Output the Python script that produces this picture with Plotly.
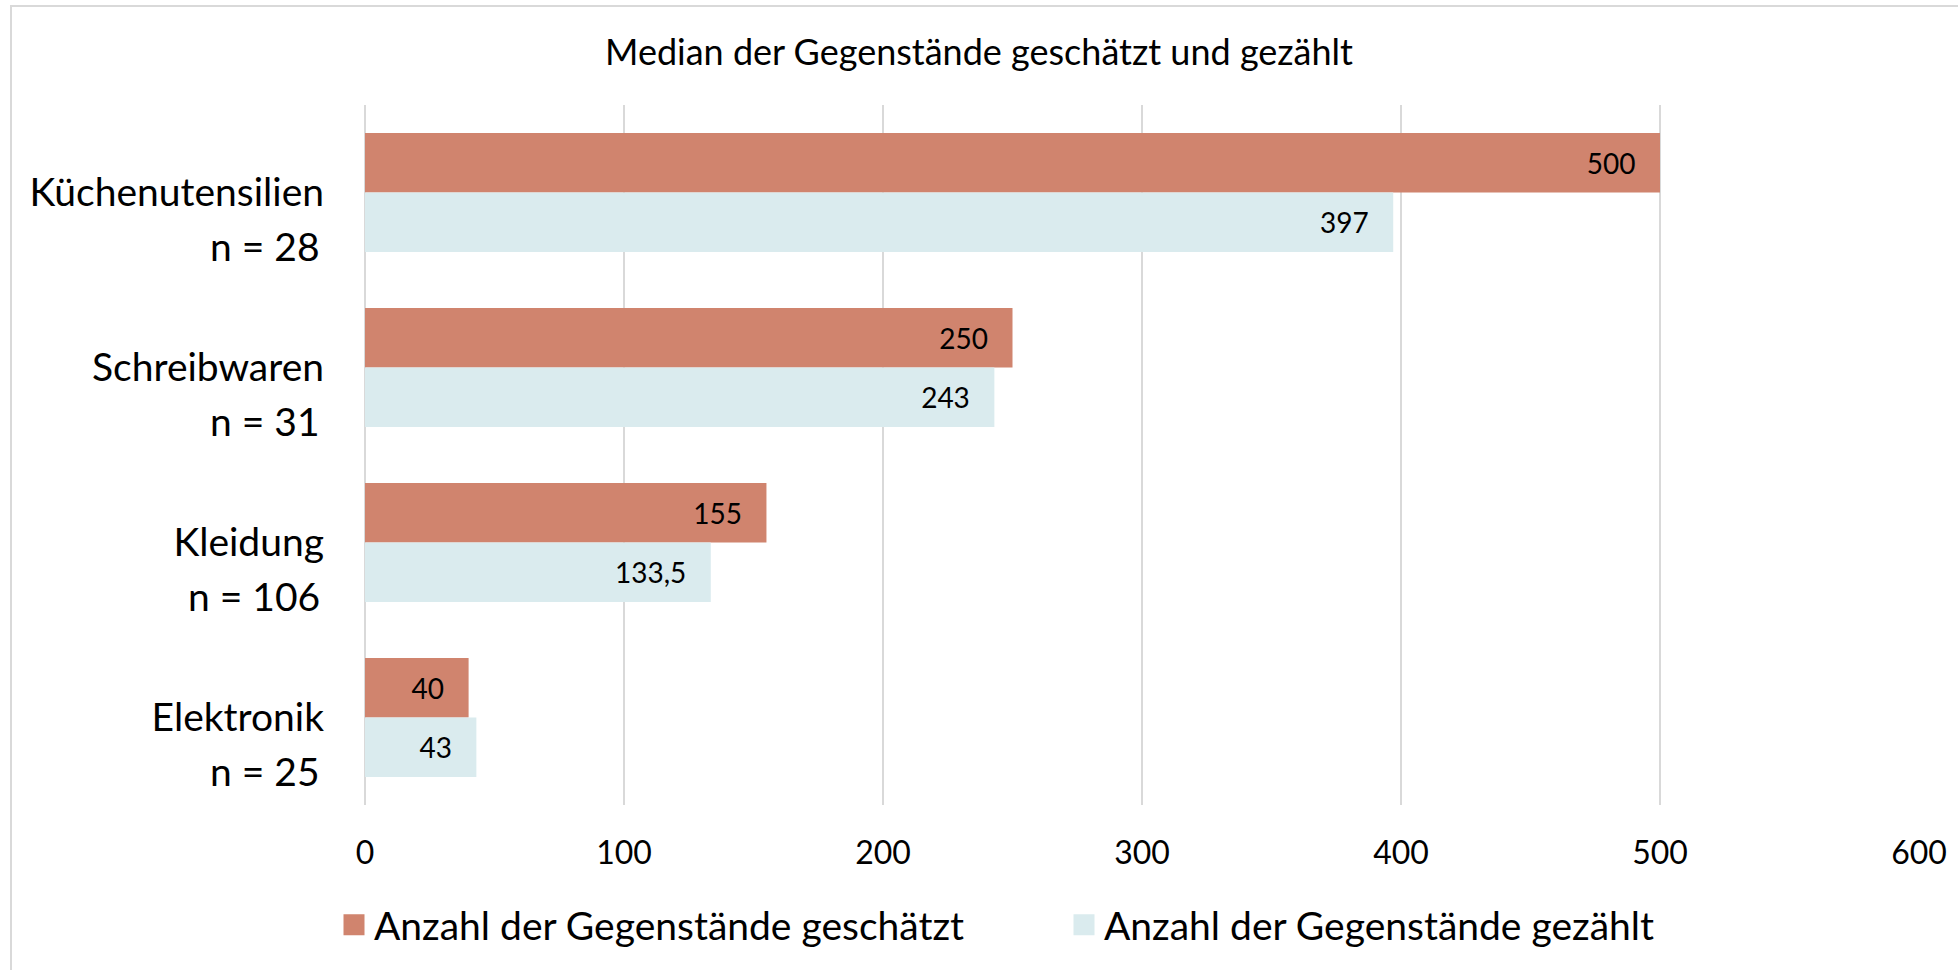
import plotly.graph_objects as go

categories = ["Küchenutensilien", "Schreibwaren", "Kleidung", "Elektronik"]
n_labels = ["n = 28", "n = 31", "n = 106", "n = 25"]
geschaetzt = [500, 250, 155, 40]
gezaehlt = [397, 243, 133.5, 43]
series_names = ["Anzahl der Gegenstände geschätzt", "Anzahl der Gegenstände gezählt"]
x_ticks = [0, 100, 200, 300, 400, 500, 600]
title_text = "Median der Gegenstände geschätzt und gezählt"

FONT = "Lato"
ORANGE = "#D0846E"
BLUE = "#DAEBEE"
GRID = "#D9D9D9"
NB = "\u00a0"

def fmt(v):
    s = ("%g" % v).replace(".", ",")
    return s + NB * 3

W, H = 1958, 970
L, R, T, B = 365, W - 1919, 105, H - 805

fig = go.Figure()
series = [(series_names[0], geschaetzt, ORANGE), (series_names[1], gezaehlt, BLUE)]
for name, vals, col in series:
    fig.add_trace(go.Bar(
        y=categories, x=vals, name=name, orientation="h",
        marker=dict(color=col, line=dict(width=0)),
        text=[fmt(v) for v in vals], textposition="inside",
        insidetextanchor="end", textangle=0,
        textfont=dict(family=FONT, size=28, color="black"),
        hoverinfo="skip", showlegend=False, legendgroup=name,
    ))
# legend entries with larger square swatches
for name, vals, col in series:
    fig.add_trace(go.Scatter(
        x=[None], y=[None], mode="markers", name=name, legendgroup=name,
        marker=dict(symbol="square", size=16, color=col, line=dict(color=col, width=5)),
        showlegend=True, hoverinfo="skip",
    ))

for cat, nl in zip(categories, n_labels):
    fig.add_annotation(
        x=0, xref="paper", y=cat, yref="y", text=nl, showarrow=False,
        xanchor="right", yanchor="middle", xshift=-43, yshift=-53,
        font=dict(family=FONT, size=39, color="black"),
    )

fig.add_shape(type="rect", xref="paper", yref="paper",
              x0=(11 - L) / (W - L - R), x1=1.1,
              y0=-0.5, y1=1 + (T - 6) / (H - T - B),
              line=dict(color=GRID, width=2), fillcolor="rgba(0,0,0,0)", layer="below")

fig.update_layout(
    width=W, height=H,
    margin=dict(l=L, r=R, t=T, b=B, autoexpand=False),
    paper_bgcolor="white", plot_bgcolor="white",
    barmode="group", bargap=0.32, bargroupgap=0,
    title=dict(text=title_text, x=0.5, xanchor="center", y=1 - 52 / H, yanchor="middle",
               yref="container", font=dict(family=FONT, size=36, color="black")),
    font=dict(family=FONT, color="black"),
    xaxis=dict(range=[0, 600], tickvals=x_ticks, ticktext=[str(t) for t in x_ticks],
               showgrid=True, gridcolor=GRID, gridwidth=2,
               zeroline=True, zerolinecolor=GRID, zerolinewidth=2,
               showline=False, ticks="", ticklabelstandoff=26,
               tickfont=dict(family=FONT, size=32, color="black"), fixedrange=True),
    yaxis=dict(autorange="reversed", showgrid=False, showline=False, ticks="",
               ticklabelstandoff=40,
               tickfont=dict(family=FONT, size=39, color="black"), fixedrange=True),
    legend=dict(orientation="h", x=(334 - L) / (W - L - R), xanchor="left",
                y=(805 - 925) / (H - T - B), yanchor="middle",
                font=dict(family=FONT, size=39, color="black"),
                entrywidth=685, itemwidth=30, bgcolor="rgba(0,0,0,0)"),
    showlegend=True,
)

fig.write_html("out.html", config={"displayModeBar": False},
               post_script="document.body.style.margin='0px';document.body.style.overflow='hidden';")
